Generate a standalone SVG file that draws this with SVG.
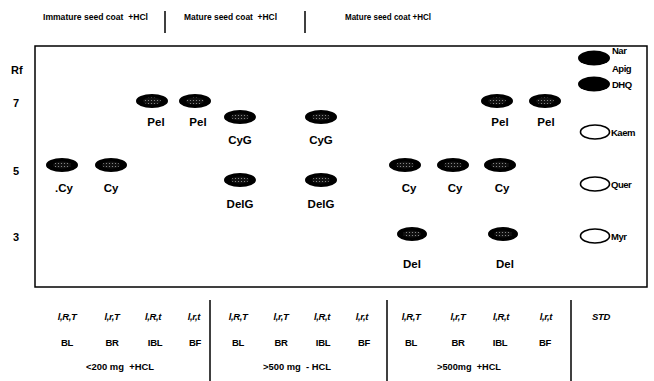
<svg xmlns="http://www.w3.org/2000/svg" width="654" height="381" viewBox="0 0 654 381">
<defs>
<pattern id="dots" width="3" height="3" patternUnits="userSpaceOnUse">
<rect width="3" height="3" fill="#111"/>
<circle cx="1.5" cy="1.5" r="0.6" fill="#999"/>
</pattern>
<style>
text{font-family:"Liberation Sans",Arial,sans-serif;font-weight:bold;fill:#000;white-space:pre}
.hd{font-size:9.5px}
.ax{font-size:11px}
.lb{font-size:11.5px;text-anchor:middle}
.st{font-size:9.5px;letter-spacing:-0.5px}
.r1{font-size:9.5px;font-style:italic;text-anchor:middle;letter-spacing:-0.4px}
.r2{font-size:9.5px;text-anchor:middle;letter-spacing:-0.3px}
.r3{font-size:9px;text-anchor:middle}
.spot{fill:#000}
.in{fill:url(#dots)}
.open{fill:#fff;stroke:#000;stroke-width:1.6}
.ln{stroke:#000;stroke-width:1.5;fill:none}
</style>
</defs>
<rect width="654" height="381" fill="#fff"/>

<g id="headers">
<text class="hd" x="43" y="20" textLength="105" lengthAdjust="spacingAndGlyphs" xml:space="preserve">Immature seed coat  +HCl</text>
<text class="hd" x="184" y="20" textLength="93" lengthAdjust="spacingAndGlyphs" xml:space="preserve">Mature seed coat  +HCl</text>
<text class="hd" x="345" y="20" textLength="86" lengthAdjust="spacingAndGlyphs">Mature seed coat +HCl</text>
</g>
<g id="frame">
<line class="ln" x1="165" y1="11" x2="165" y2="33"/>
<line class="ln" x1="305" y1="11" x2="305" y2="33"/>
<rect class="ln" x="35" y="46" width="612" height="241"/>
<line class="ln" x1="210" y1="300" x2="210" y2="381"/>
<line class="ln" x1="387" y1="300" x2="387" y2="381"/>
<line class="ln" x1="571" y1="300" x2="571" y2="381"/>
</g>
<g id="axis">
<text class="ax" x="11" y="74">Rf</text>
<text class="ax" x="13" y="107">7</text>
<text class="ax" x="13" y="175">5</text>
<text class="ax" x="13" y="241">3</text>
</g>

<g id="spots">
<g id="cy1"><ellipse class="spot" cx="62" cy="165" rx="16" ry="7"/><ellipse class="in" cx="62" cy="165" rx="9" ry="3.5"/><text class="lb" x="64" y="192">.Cy</text></g>
<g id="cy2"><ellipse class="spot" cx="111" cy="165" rx="16" ry="7"/><ellipse class="in" cx="111" cy="165" rx="9" ry="3.5"/><text class="lb" x="111" y="192">Cy</text></g>
<g id="pel1"><ellipse class="spot" cx="152" cy="101" rx="16" ry="7"/><ellipse class="in" cx="152" cy="101" rx="9" ry="3.5"/><text class="lb" x="156" y="126">Pel</text></g>
<g id="pel2"><ellipse class="spot" cx="195" cy="101" rx="16" ry="7"/><ellipse class="in" cx="195" cy="101" rx="9" ry="3.5"/><text class="lb" x="198" y="126">Pel</text></g>
<g id="cyg1"><ellipse class="spot" cx="240" cy="117" rx="16" ry="7"/><ellipse class="in" cx="240" cy="117" rx="9" ry="3.5"/><text class="lb" x="240" y="144">CyG</text></g>
<g id="delg1"><ellipse class="spot" cx="240" cy="180" rx="16" ry="7"/><ellipse class="in" cx="240" cy="180" rx="9" ry="3.5"/><text class="lb" x="240" y="208">DelG</text></g>
<g id="cyg2"><ellipse class="spot" cx="321" cy="117" rx="16" ry="7"/><ellipse class="in" cx="321" cy="117" rx="9" ry="3.5"/><text class="lb" x="321" y="144">CyG</text></g>
<g id="delg2"><ellipse class="spot" cx="321" cy="180" rx="16" ry="7"/><ellipse class="in" cx="321" cy="180" rx="9" ry="3.5"/><text class="lb" x="321" y="208">DelG</text></g>
<g id="cy3"><ellipse class="spot" cx="405" cy="165" rx="16" ry="7"/><ellipse class="in" cx="405" cy="165" rx="9" ry="3.5"/><text class="lb" x="409" y="192">Cy</text></g>
<g id="cy4"><ellipse class="spot" cx="453" cy="165" rx="16" ry="7"/><ellipse class="in" cx="453" cy="165" rx="9" ry="3.5"/><text class="lb" x="455" y="192">Cy</text></g>
<g id="cy5"><ellipse class="spot" cx="500" cy="165" rx="16" ry="7"/><ellipse class="in" cx="500" cy="165" rx="9" ry="3.5"/><text class="lb" x="502" y="192">Cy</text></g>
<g id="del1"><ellipse class="spot" cx="412" cy="234" rx="15" ry="7"/><ellipse class="in" cx="412" cy="234" rx="9" ry="3.5"/><text class="lb" x="412" y="268">Del</text></g>
<g id="del2"><ellipse class="spot" cx="503" cy="234" rx="15" ry="7"/><ellipse class="in" cx="503" cy="234" rx="9" ry="3.5"/><text class="lb" x="505" y="268">Del</text></g>
<g id="pel3"><ellipse class="spot" cx="497" cy="101" rx="16" ry="7"/><ellipse class="in" cx="497" cy="101" rx="9" ry="3.5"/><text class="lb" x="500" y="126">Pel</text></g>
<g id="pel4"><ellipse class="spot" cx="545" cy="101" rx="16" ry="7"/><ellipse class="in" cx="545" cy="101" rx="9" ry="3.5"/><text class="lb" x="546" y="126">Pel</text></g>
</g>

<g id="standards">
<g id="std-nar"><ellipse class="spot" cx="594" cy="58" rx="16" ry="7.5"/><text class="st" x="612" y="54">Nar</text><text class="st" x="612" y="72">Apig</text></g>
<g id="std-dhq"><ellipse class="spot" cx="594" cy="84" rx="16" ry="7.5"/><text class="st" x="612" y="88">DHQ</text></g>
<g id="std-kaem"><ellipse class="open" cx="595" cy="132" rx="14.5" ry="7"/><text class="st" x="611" y="136">Kaem</text></g>
<g id="std-quer"><ellipse class="open" cx="595" cy="184" rx="14.5" ry="7"/><text class="st" x="611" y="188">Quer</text></g>
<g id="std-myr"><ellipse class="open" cx="595" cy="236" rx="14.5" ry="7"/><text class="st" x="611" y="240">Myr</text></g>
</g>

<g id="legend">
<text class="r1" x="67" y="320">l,R,T</text>
<text class="r1" x="112" y="320">l,r,T</text>
<text class="r1" x="153" y="320">l,R,t</text>
<text class="r1" x="194" y="320">l,r,t</text>
<text class="r1" x="238" y="320">l,R,T</text>
<text class="r1" x="281" y="320">l,r,T</text>
<text class="r1" x="322" y="320">l,R,t</text>
<text class="r1" x="362" y="320">l,r,t</text>
<text class="r1" x="411" y="320">l,R,T</text>
<text class="r1" x="458" y="320">l,r,T</text>
<text class="r1" x="501" y="320">l,R,t</text>
<text class="r1" x="546" y="320">l,r,t</text>
<text class="r1" x="601" y="320">STD</text>
<text class="r2" x="67" y="346">BL</text>
<text class="r2" x="112" y="346">BR</text>
<text class="r2" x="155" y="346">IBL</text>
<text class="r2" x="195" y="346">BF</text>
<text class="r2" x="238" y="346">BL</text>
<text class="r2" x="281" y="346">BR</text>
<text class="r2" x="323" y="346">IBL</text>
<text class="r2" x="364" y="346">BF</text>
<text class="r2" x="411" y="346">BL</text>
<text class="r2" x="458" y="346">BR</text>
<text class="r2" x="500" y="346">IBL</text>
<text class="r2" x="545" y="346">BF</text>
<text class="r3" x="120" y="370" textLength="68" lengthAdjust="spacingAndGlyphs" xml:space="preserve">&lt;200 mg  +HCL</text>
<text class="r3" x="297" y="370" textLength="68" lengthAdjust="spacingAndGlyphs" xml:space="preserve">&gt;500 mg  - HCL</text>
<text class="r3" x="469" y="370" textLength="64" lengthAdjust="spacingAndGlyphs" xml:space="preserve">&gt;500mg  +HCL</text>
</g>
</svg>
